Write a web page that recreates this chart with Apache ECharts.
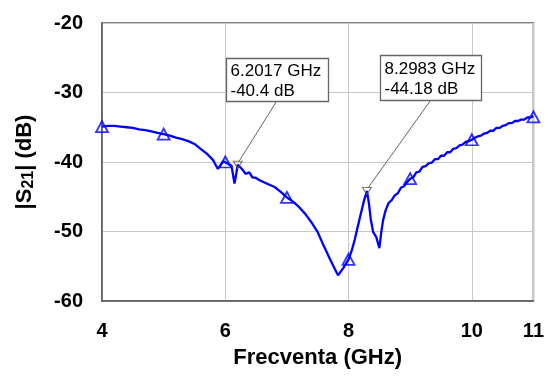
<!DOCTYPE html>
<html>
<head>
<meta charset="utf-8">
<script src="https://cdn.jsdelivr.net/npm/echarts@6/dist/echarts.min.js"></script>
<style>
html,body{margin:0;padding:0;background:#fff;}
#c{width:547px;height:380px;}
</style>
</head>
<body>
<div id="c"></div>
<script>
// Frequency (GHz) and |S21| (dB) of the measured trace
const freq = [4.0,4.1,4.2,4.3,4.4,4.5,4.6,4.7,4.8,4.9,5.0,5.1,5.2,5.3,5.4,5.5,5.6,5.7,5.8,5.88,5.92,5.97,6.05,6.1,6.15,6.18,6.2017,6.27,6.33,6.39,6.44,6.5,6.55,6.6,6.7,6.8,6.9,7.0,7.1,7.2,7.3,7.4,7.5,7.6,7.7,7.8,7.83,7.87,7.92,8.0,8.05,8.1,8.15,8.2,8.25,8.2983,8.33,8.36,8.4,8.45,8.5,8.53,8.56,8.6,8.65,8.7,8.75,8.8,8.85,8.9,8.95,9.0,9.05,9.1,9.15,9.2,9.25,9.3,9.35,9.4,9.45,9.5,9.55,9.6,9.65,9.7,9.75,9.8,9.85,9.9,9.95,10.0,10.05,10.1,10.15,10.2,10.25,10.3,10.35,10.4,10.45,10.5,10.55,10.6,10.65,10.7,10.75,10.8,10.85,10.9,10.95,11.0];
const s21 = [-34.9,-34.8,-34.8,-34.9,-35.0,-35.1,-35.3,-35.4,-35.6,-35.8,-36.0,-36.2,-36.5,-36.7,-37.0,-37.4,-38.1,-38.8,-39.7,-41.0,-40.5,-39.9,-40.3,-40.5,-43.1,-41.6,-40.4,-41.0,-41.7,-41.5,-42.2,-42.3,-42.6,-42.8,-43.2,-43.6,-44.3,-45.1,-45.7,-46.5,-47.5,-48.7,-50.1,-52.1,-54.0,-55.8,-56.3,-55.8,-55.2,-54.0,-52.8,-51.2,-49.3,-47.4,-45.6,-44.18,-45.9,-48.2,-50.1,-50.8,-52.4,-50.2,-48.4,-47.0,-45.9,-45.5,-44.8,-44.5,-43.7,-43.5,-42.9,-42.4,-42.2,-41.5,-41.4,-40.7,-40.6,-40.2,-40.1,-39.6,-39.6,-39.1,-39.1,-38.6,-38.6,-38.1,-38.0,-37.6,-37.5,-37.1,-37.0,-36.8,-36.5,-36.3,-36.2,-35.9,-35.8,-35.5,-35.5,-35.1,-35.1,-34.8,-34.7,-34.4,-34.4,-34.1,-34.1,-33.9,-33.9,-33.6,-33.6,-33.4];
// Triangle markers on the trace
const markerFreq = [4,5,6,7,8,9,10,11];
const markerVal = [-34.9,-36.0,-40.0,-45.1,-54.0,-42.4,-36.8,-33.5];
// Annotated points
const annFreq = [6.2017, 8.2983];
const annVal = [-40.4, -44.18];
// Axis ticks
const xTicks = {min:4, max:11, interval:2};
const yTicks = {min:-60, max:-20, interval:10};

const chart = echarts.init(document.getElementById('c'), null, {renderer:'canvas'});
const font = '"Liberation Sans", Arial, sans-serif';
chart.setOption({
  animation:false,
  backgroundColor:'#fff',
  grid:{left:102,right:11,top:23,bottom:79,show:true,borderColor:'#5a5a5a',borderWidth:1.5,backgroundColor:'transparent'},
  xAxis:{
    type:'value', min:xTicks.min, max:xTicks.max, interval:xTicks.interval,
    name:'Frecventa (GHz)', nameLocation:'middle', nameGap:46,
    nameTextStyle:{fontFamily:font,fontWeight:'bold',fontSize:22,color:'#000'},
    axisLine:{show:true,lineStyle:{color:'#5a5a5a',width:1.5}},
    axisTick:{show:false},
    splitLine:{show:true,lineStyle:{color:'#c8c8c8',width:1}},
    axisLabel:{fontFamily:font,fontWeight:'bold',fontSize:20,color:'#000',margin:20,showMaxLabel:true,showMinLabel:true}
  },
  yAxis:{
    type:'value', min:yTicks.min, max:yTicks.max, interval:yTicks.interval,
    name:'|S{sub|21}| (dB)', nameLocation:'middle', nameGap:65, nameRotate:90,
    nameTextStyle:{fontFamily:font,fontWeight:'bold',fontSize:22,color:'#000',
      rich:{sub:{fontFamily:font,fontWeight:'bold',fontSize:16,color:'#000',padding:[9,0,0,0]}}},
    axisLine:{show:true,lineStyle:{color:'#5a5a5a',width:1.5}},
    axisTick:{show:false},
    splitLine:{show:true,lineStyle:{color:'#c8c8c8',width:1}},
    axisLabel:{fontFamily:font,fontWeight:'bold',fontSize:20,color:'#000',margin:19}
  },
  series:[
    {type:'line', data:freq.map((f,i)=>[f,s21[i]]), showSymbol:false, symbol:'none',
     lineStyle:{color:'#0000ff',width:2.3}, z:2},
    {type:'scatter', data:markerFreq.map((f,i)=>[f,markerVal[i]]), symbol:'triangle', symbolSize:[12,11],
     itemStyle:{color:'rgba(255,255,255,0)',borderColor:'#0000ff',borderWidth:1.8}, z:3},
    {type:'scatter', data:annFreq.map((f,i)=>[f,annVal[i]]), symbol:'triangle', symbolRotate:180, symbolSize:[9,7],
     itemStyle:{color:'rgba(255,255,255,0)',borderColor:'#555',borderWidth:1}, z:4}
  ]
});

// Annotation boxes placed relative to their data points
const boxStyle = [
  {dx:-12, dy:-107, w:102, h:43, leadX:50},
  {dx:13, dy:-136, w:101, h:45, leadX:50}
];
const graphics = [];
annFreq.forEach((f,i)=>{
  const p = chart.convertToPixel({gridIndex:0},[f,annVal[i]]);
  const b = boxStyle[i];
  const bx = Math.round(p[0]+b.dx)+0.5, by = Math.round(p[1]+b.dy)+0.5;
  graphics.push({type:'line', shape:{x1:bx+b.leadX,y1:by+b.h,x2:p[0]+1,y2:p[1]-3}, style:{stroke:'#666',lineWidth:1}, z:10});
  graphics.push({type:'rect', shape:{x:bx,y:by,width:b.w,height:b.h}, style:{fill:'#fff',stroke:'#666',lineWidth:1.3}, z:11});
  graphics.push({type:'text', x:bx+4, y:by+b.h/2+1, style:{text:f.toFixed(4)+' GHz\n'+annVal[i]+' dB', fontFamily:font, fontSize:17, fill:'#000', lineHeight:20, verticalAlign:'middle', align:'left'}, z:12});
});
chart.setOption({graphic:graphics});
</script>
</body>
</html>
